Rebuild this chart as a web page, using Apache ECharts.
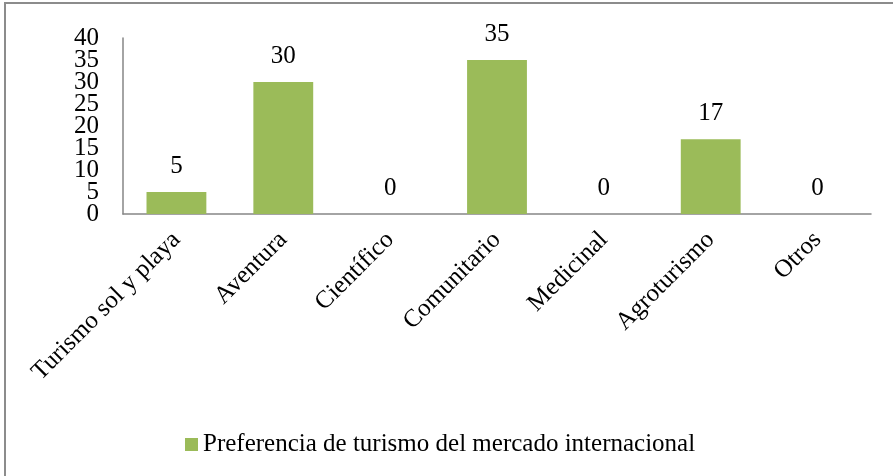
<!DOCTYPE html>
<html>
<head>
<meta charset="utf-8">
<script src="https://cdn.jsdelivr.net/npm/echarts@6/dist/echarts.min.js"></script>
<style>
  html, body { margin: 0; padding: 0; background: #fff; }
  #chart { width: 893px; height: 476px; }
</style>
</head>
<body>
<div id="chart"></div>
<script>
// data
var categories = ["Turismo sol y playa", "Aventura", "Científico", "Comunitario", "Medicinal", "Agroturismo", "Otros"];
var values = [5, 30, 0, 35, 0, 17, 0];
var seriesName = "Preferencia de turismo del mercado internacional";
var yMin = 0;
var yMax = 40;
var yStep = 5;

var serif = "'Liberation Serif', 'Times New Roman', serif";

// ticks are packed tighter than the font, so the labels next to min/max
// go on a second (overlaid) axis, otherwise echarts drops them
function nextToEnds(v) {
  return v === yMin + yStep || v === yMax - yStep;
}

function yAxisBase(showLine, pick) {
  return {
    type: "value",
    position: "left",
    min: yMin,
    max: yMax,
    interval: yStep,
    axisLine: { show: showLine, lineStyle: { color: "#868686", width: 1.5 } },
    axisTick: { show: false },
    splitLine: { show: false },
    axisLabel: {
      margin: 24,
      fontFamily: serif,
      fontSize: 25,
      color: "#000",
      formatter: function (v) { return pick(v) ? String(v) : ""; }
    }
  };
}

var chart = echarts.init(document.getElementById("chart"));
chart.setOption({
  animation: false,
  textStyle: { fontFamily: serif, color: "#000" },
  graphic: [
    {
      type: "rect",
      shape: { x: 5, y: 3, width: 900, height: 490 },
      style: { fill: "none", stroke: "#8c8c8c", lineWidth: 2 },
      silent: true
    }
  ],
  grid: {
    left: 123,
    right: 22,
    top: 38,
    bottom: 262
  },
  legend: {
    data: [seriesName],
    left: 180,
    top: 427,
    icon: "rect",
    itemWidth: 13,
    itemHeight: 13,
    textStyle: { fontFamily: serif, fontSize: 25, color: "#000" }
  },
  xAxis: {
    type: "category",
    data: categories,
    axisTick: { show: false },
    axisLine: { lineStyle: { color: "#868686", width: 1.5 } },
    axisLabel: {
      interval: 0,
      rotate: 45,
      margin: 22,
      fontFamily: serif,
      fontSize: 25,
      color: "#000"
    }
  },
  yAxis: [
    yAxisBase(true, function (v) { return !nextToEnds(v); }),
    yAxisBase(false, nextToEnds)
  ],
  series: [
    {
      name: seriesName,
      type: "bar",
      data: values,
      yAxisIndex: 0,
      barWidth: "56%",
      itemStyle: {
        color: "#9BBB59"
      },
      label: {
        show: true,
        position: "top",
        distance: 13,
        fontFamily: serif,
        fontSize: 25,
        color: "#000"
      }
    }
  ]
});
</script>
</body>
</html>
